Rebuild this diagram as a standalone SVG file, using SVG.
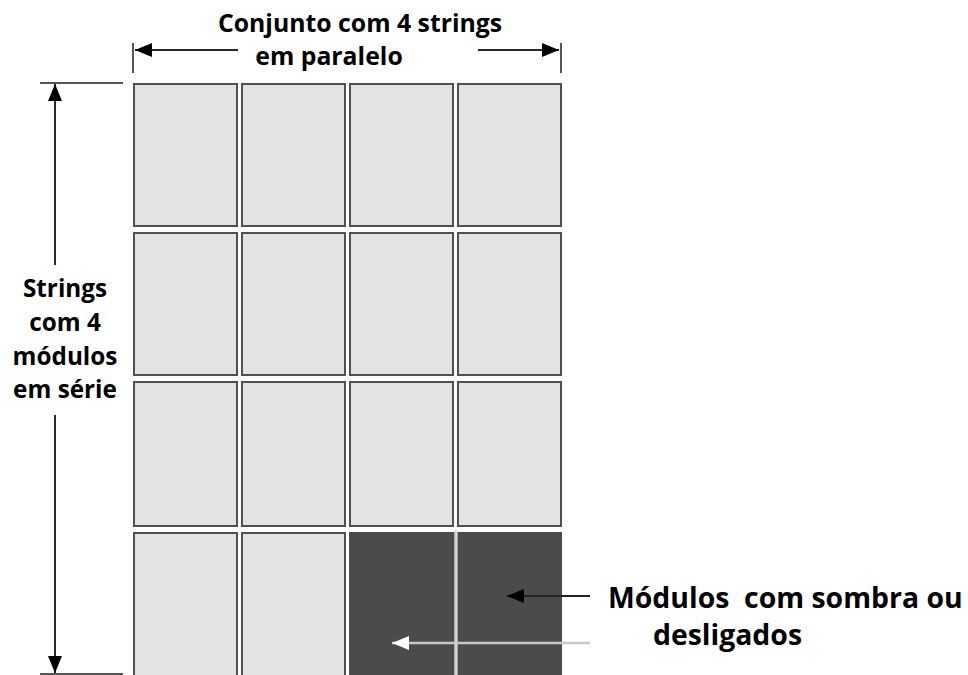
<svg xmlns="http://www.w3.org/2000/svg" width="968" height="675" viewBox="0 0 968 675">
<defs>
<style>
.mod{fill:#e3e3e3;stroke:#505050;stroke-width:2}
.dark{fill:#4b4b4b;stroke:none}
.dim{stroke:#2a2a2a;stroke-width:2;fill:none}
.tick{stroke:#555;stroke-width:2}
.lbl{font-family:"Open Sans","DejaVu Sans",sans-serif;font-weight:bold;fill:#000}
</style>
<marker id="ahBig" viewBox="0 0 10 10" refX="10" refY="5" markerWidth="17" markerHeight="14" markerUnits="userSpaceOnUse" orient="auto" preserveAspectRatio="none">
<path d="M0,0 L10,5 L0,10 Z" fill="#000"/>
</marker>
<marker id="ahWhite" viewBox="0 0 10 10" refX="10" refY="5" markerWidth="17" markerHeight="14" markerUnits="userSpaceOnUse" orient="auto" preserveAspectRatio="none">
<path d="M0,0 L10,5 L0,10 Z" fill="#fff"/>
</marker>
</defs>
<rect width="968" height="675" fill="#fff"/>

<g id="modules">
<g id="r1c1"><rect class="mod" x="134" y="84" width="103" height="142"/></g>
<g id="r1c2"><rect class="mod" x="242" y="84" width="103" height="142"/></g>
<g id="r1c3"><rect class="mod" x="350" y="84" width="103" height="142"/></g>
<g id="r1c4"><rect class="mod" x="458" y="84" width="103" height="142"/></g>
<g id="r2c1"><rect class="mod" x="134" y="233" width="103" height="142"/></g>
<g id="r2c2"><rect class="mod" x="242" y="233" width="103" height="142"/></g>
<g id="r2c3"><rect class="mod" x="350" y="233" width="103" height="142"/></g>
<g id="r2c4"><rect class="mod" x="458" y="233" width="103" height="142"/></g>
<g id="r3c1"><rect class="mod" x="134" y="382" width="103" height="144"/></g>
<g id="r3c2"><rect class="mod" x="242" y="382" width="103" height="144"/></g>
<g id="r3c3"><rect class="mod" x="350" y="382" width="103" height="144"/></g>
<g id="r3c4"><rect class="mod" x="458" y="382" width="103" height="144"/></g>
<g id="r4c1"><rect class="mod" x="134" y="533" width="103" height="145"/></g>
<g id="r4c2"><rect class="mod" x="242" y="533" width="103" height="145"/></g>
<g id="r4c3"><rect class="dark" x="349" y="532" width="105.5" height="145"/></g>
<g id="r4c4"><rect class="dark" x="457.5" y="532" width="104.5" height="145"/></g>
</g>

<g id="connectors">
<line class="tick" x1="133" y1="43" x2="133" y2="73"/>
<line class="tick" x1="561" y1="43" x2="561" y2="73"/>
<line class="dim" x1="238" y1="50" x2="135" y2="50" marker-end="url(#ahBig)"/>
<line class="dim" x1="478" y1="50" x2="559" y2="50" marker-end="url(#ahBig)"/>
<line class="tick" x1="40" y1="83" x2="123" y2="83"/>
<line class="tick" x1="40" y1="674" x2="123" y2="674"/>
<line class="dim" x1="55" y1="265" x2="55" y2="84" marker-end="url(#ahBig)"/>
<line class="dim" x1="55" y1="415" x2="55" y2="673" marker-end="url(#ahBig)"/>
<line x1="590" y1="596" x2="507" y2="596" stroke="#222" stroke-width="2" marker-end="url(#ahBig)"/>
<line x1="590" y1="643" x2="392" y2="643" stroke="#c8c8c8" stroke-width="2.5" marker-end="url(#ahWhite)"/>
<line x1="455.8" y1="530" x2="455.8" y2="675" stroke="#d0d0d0" stroke-width="2"/>
</g>

<g id="labels">
<text class="lbl" x="360" y="32" font-size="24.8" text-anchor="middle">Conjunto com 4 strings</text>
<text class="lbl" x="329" y="65" font-size="24.8" text-anchor="middle">em paralelo</text>
<text class="lbl" x="65" y="297" font-size="24.3" text-anchor="middle">Strings</text>
<text class="lbl" x="65" y="331" font-size="24.3" text-anchor="middle">com 4</text>
<text class="lbl" x="65" y="365" font-size="24.3" text-anchor="middle">módulos</text>
<text class="lbl" x="65" y="398" font-size="24.3" text-anchor="middle">em série</text>
<text class="lbl" x="608" y="608" font-size="28.4" xml:space="preserve">Módulos  com sombra ou</text>
<text class="lbl" x="653" y="645" font-size="28.4">desligados</text>
</g>
</svg>
